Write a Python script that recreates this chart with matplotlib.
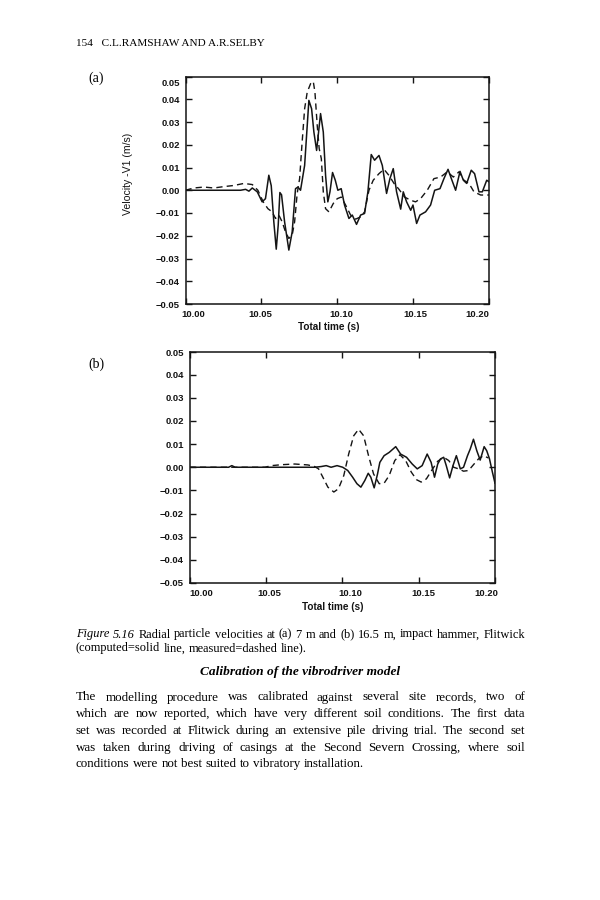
import matplotlib
matplotlib.use("Agg")
import matplotlib.pyplot as plt
from matplotlib.transforms import ScaledTranslation

# ---------------- data ----------------
x_ticks = [10.00, 10.05, 10.10, 10.15, 10.20]
x_tick_labels = ["10.00", "10.05", "10.10", "10.15", "10.20"]
y_ticks = [0.05, 0.04, 0.03, 0.02, 0.01, 0.00, -0.01, -0.02, -0.03, -0.04, -0.05]
y_tick_labels = ["0.05", "0.04", "0.03", "0.02", "0.01", "0.00",
                 "\u22120.01", "\u22120.02", "\u22120.03", "\u22120.04", "\u22120.05"]

# panel (a): 7 m
t_a_comp = [10.000, 10.0363, 10.0396, 10.0418, 10.0440, 10.0473, 10.0505, 10.0527, 10.0549,
            10.0565, 10.0582, 10.0598, 10.0611, 10.0622, 10.0633, 10.0653, 10.0681, 10.0703,
            10.0725, 10.0741, 10.0758, 10.0785, 10.0813, 10.0831, 10.0846, 10.0864, 10.0877,
            10.0890, 10.0908, 10.0923, 10.0938, 10.0952, 10.0969, 10.0987, 10.1004, 10.1026,
            10.1048, 10.1077, 10.1099, 10.1127, 10.1154, 10.1180, 10.1202, 10.1224, 10.1246,
            10.1275, 10.1297, 10.1325, 10.1347, 10.1369, 10.1391, 10.1418, 10.1435, 10.1457,
            10.1484, 10.1499, 10.1523, 10.1545, 10.1582, 10.1615, 10.1642, 10.1677, 10.1703,
            10.1730, 10.1752, 10.1780, 10.1809, 10.1831, 10.1853, 10.1883, 10.1905, 10.1934,
            10.1956, 10.1985, 10.2000]
v_a_comp = [0, 0, 0.0004, -0.0004, 0.0010, -0.0007, -0.0051, -0.0037, 0.0066,
            0.0020, -0.0139, -0.0259, -0.0153, -0.0010, -0.0020, -0.0139, -0.0263, -0.0183,
            0.0007, 0.0014, 0.0000, 0.0109, 0.0395, 0.0358, 0.0256, 0.0175, 0.0256,
            0.0337, 0.0256, 0.0066, -0.0051, -0.0007, 0.0078, 0.0044, 0.0000, 0.0007,
            -0.0065, -0.0124, -0.0109, -0.0150, -0.0109, -0.0102, -0.0007, 0.0157, 0.0132,
            0.0153, 0.0109, -0.0014, 0.0051, 0.0095, -0.0007, -0.0083, -0.0007, -0.0051,
            -0.0088, -0.0065, -0.0146, -0.0109, -0.0095, -0.0065, 0.0000, 0.0007, 0.0051,
            0.0092, 0.0051, 0.0000, 0.0083, 0.0044, 0.0030, 0.0088, 0.0073, -0.0007,
            -0.0007, 0.0044, 0.0037]
t_a_meas = [10.000, 10.0055, 10.0121, 10.0187, 10.0253, 10.0319, 10.0385, 10.0440, 10.0477,
            10.0512, 10.0543, 10.0571, 10.0593, 10.0615, 10.0637, 10.0659, 10.0681, 10.0703,
            10.0719, 10.0736, 10.0752, 10.0767, 10.0785, 10.0802, 10.0824, 10.0842, 10.0853,
            10.0868, 10.0881, 10.0895, 10.0908, 10.0923, 10.0945, 10.0974, 10.1000, 10.1026,
            10.1055, 10.1088, 10.1121, 10.1154, 10.1180, 10.1209, 10.1237, 10.1275, 10.1308,
            10.1341, 10.1374, 10.1407, 10.1444, 10.1484, 10.1516, 10.1549, 10.1593, 10.1637,
            10.1681, 10.1725, 10.1765, 10.1802, 10.1835, 10.1868, 10.1901, 10.1945, 10.2000]
v_a_meas = [0, 0.0010, 0.0014, 0.0010, 0.0016, 0.0021, 0.0030, 0.0025, 0,
            -0.0051, -0.0081, -0.0095, -0.0124, -0.0109, -0.0139, -0.0183, -0.0212, -0.0197,
            -0.0139, -0.0014, 0.0051, 0.0197, 0.0358, 0.0431, 0.0468, 0.0478, 0.0431,
            0.0285, 0.0183, 0.0139, -0.0007, -0.0081, -0.0095, -0.0058, -0.0037, -0.0030,
            -0.0065, -0.0109, -0.0127, -0.0117, -0.0095, 0, 0.0044, 0.0073, 0.0092,
            0.0065, 0.0030, 0.0004, -0.0030, -0.0044, -0.0051, -0.0037, 0, 0.0051,
            0.0058, 0.0081, 0.0058, 0.0081, 0.0044, 0.0030, -0.0007, -0.0021, -0.0021]

# panel (b): 16.5 m
t_b_comp = [10.0000, 10.0256, 10.0277, 10.0299, 10.0819, 10.0862, 10.0895, 10.0927, 10.0966,
            10.1003, 10.1036, 10.1068, 10.1096, 10.1122, 10.1148, 10.1170, 10.1187, 10.1209,
            10.1231, 10.1246, 10.1274, 10.1307, 10.1350, 10.1382, 10.1421, 10.1458, 10.1491,
            10.1523, 10.1556, 10.1582, 10.1604, 10.1625, 10.1643, 10.1664, 10.1681, 10.1703,
            10.1725, 10.1747, 10.1773, 10.1794, 10.1820, 10.1838, 10.1859, 10.1881, 10.1903,
            10.1929, 10.1946, 10.1964, 10.1983, 10.2000]
v_b_comp = [0, 0, 0.0007, 0, 0, 0.0003, 0.0007, 0, 0.0007,
            0, -0.0014, -0.0043, -0.0071, -0.0086, -0.0057, -0.0026, -0.0043, -0.0089,
            -0.0029, 0.0021, 0.0050, 0.0064, 0.0089, 0.0057, 0.0043, 0.0014, -0.0007,
            0.0007, 0.0057, 0.0021, -0.0043, 0.0014, 0.0036, 0.0043, 0.0007, -0.0046,
            0.0007, 0.0050, -0.0007, 0, 0.0050, 0.0079, 0.0121, 0.0071, 0.0031,
            0.0089, 0.0071, 0.0036, -0.0021, -0.0069]
t_b_meas = [10.0000, 10.0494, 10.0537, 10.0602, 10.0689, 10.0775, 10.0819, 10.0845, 10.0873,
            10.0906, 10.0945, 10.0975, 10.1010, 10.1042, 10.1075, 10.1107, 10.1140, 10.1172,
            10.1205, 10.1242, 10.1274, 10.1307, 10.1344, 10.1378, 10.1415, 10.1452, 10.1487,
            10.1517, 10.1551, 10.1588, 10.1625, 10.1664, 10.1697, 10.1729, 10.1762, 10.1794,
            10.1827, 10.1859, 10.1892, 10.1924, 10.1957]
v_b_meas = [0, 0, 0.0007, 0.0011, 0.0014, 0.0010, 0.0003, -0.0007, -0.0043,
            -0.0086, -0.0107, -0.0093, -0.0036, 0.0057, 0.0136, 0.0164, 0.0136, 0.0050,
            -0.0029, -0.0071, -0.0069, -0.0036, 0.0029, 0.0054, 0.0029, -0.0021, -0.0054,
            -0.0064, -0.0050, -0.0011, 0.0026, 0.0043, 0.0029, 0, -0.0007, -0.0017,
            -0.0014, 0.0011, 0.0036, 0.0050, 0.0040]

header_text = "154   C.L.RAMSHAW AND A.R.SELBY"
panel_labels = ["(a)", "(b)"]
y_label = "Velocity -V1 (m/s)"
x_label = "Total time (s)"
caption_line1 = [("Figure", "italic"), ("5.16", "italic"), ("Radial", "normal"),
                 ("particle", "normal"), ("velocities", "normal"), ("at", "normal"),
                 ("(a)", "normal"), ("7", "normal"), ("m", "normal"), ("and", "normal"),
                 ("(b)", "normal"), ("16.5", "normal"), ("m,", "normal"), ("impact", "normal"),
                 ("hammer,", "normal"), ("Flitwick", "normal")]
caption_line2 = "(computed=solid line, measured=dashed line)."
heading = "Calibration of the vibrodriver model"
paragraph_lines = [
    "The modelling procedure was calibrated against several site records, two of",
    "which are now reported, which have very different soil conditions. The first data",
    "set was recorded at Flitwick during an extensive pile driving trial. The second set",
    "was taken during driving of casings at the Second Severn Crossing, where soil",
    "conditions were not best suited to vibratory installation.",
]

# ---------------- figure ----------------
W, H = 600, 900
fig = plt.figure(figsize=(W / 100, H / 100), dpi=100)
fig.patch.set_facecolor("white")

SANS = ["Liberation Sans", "DejaVu Sans"]
SERIF = ["Liberation Serif", "DejaVu Serif"]
INK = "#141414"


def px_box(l, t, r, b):
    return [l / W, 1 - b / H, (r - l) / W, (b - t) / H]


def shift(dx, dy):
    return ScaledTranslation(dx / 100, -dy / 100, fig.dpi_scale_trans)


def style_axes(ax, label_dx, first_y_dy):
    ax.set_xlim(10.0, 10.2)
    ax.set_ylim(-0.05, 0.05)
    ax.set_xticks(x_ticks)
    ax.set_xticklabels(x_tick_labels)
    ax.set_yticks(y_ticks)
    ax.set_yticklabels(y_tick_labels)
    ax.tick_params(direction="in", top=True, right=True, length=4.5, width=1.0,
                   labelsize=6.8, pad=4, colors=INK)
    for lab in ax.get_xticklabels() + ax.get_yticklabels():
        lab.set_fontfamily(SANS)
        lab.set_fontweight("bold")
    for lab, dx in zip(ax.get_xticklabels(), label_dx):
        lab.set_transform(lab.get_transform() + shift(dx, 0))
    ylabs = ax.get_yticklabels()
    ylabs[0].set_transform(ylabs[0].get_transform() + shift(0, first_y_dy))
    for s in ax.spines.values():
        s.set_linewidth(1.1)
        s.set_color(INK)


line_kw = dict(color=INK, lw=1.1)
dash_kw = dict(color=INK, lw=1.0, linestyle=(0, (4.5, 3.0)))

# panel (a)
ax_a = fig.add_axes(px_box(185.5, 76.5, 489, 304))
ax_a.plot(t_a_comp, v_a_comp, **line_kw)
ax_a.plot(t_a_meas, v_a_meas, **dash_kw)
style_axes(ax_a, [8, -1, 4, 2, -12], 6)

# panel (b)
ax_b = fig.add_axes(px_box(189.5, 351.5, 495, 583))
ax_b.plot(t_b_comp, v_b_comp, **line_kw)
ax_b.plot(t_b_meas, v_b_meas, **dash_kw)
style_axes(ax_b, [12, 3, 8, 5, -9], 1)


def ftext(x, y, s, **kw):
    return fig.text(x / W, 1 - y / H, s, **kw)


# axis titles
ftext(128, 174, y_label, rotation=90, ha="center", va="center", fontsize=7.6,
      family=SANS, color=INK)
ftext(329, 326.5, x_label, ha="center", va="center", fontsize=7.2, family=SANS,
      weight="bold", color=INK)
ftext(333, 607, x_label, ha="center", va="center", fontsize=7.2, family=SANS,
      weight="bold", color=INK)

# panel letters
ftext(96.5, 78.5, panel_labels[0], ha="center", va="center", fontsize=10, family=SERIF)
ftext(96.5, 364, panel_labels[1], ha="center", va="center", fontsize=10, family=SERIF)

# header
ftext(76, 46.5, header_text, ha="left", va="baseline", fontsize=8.1, family=SERIF)

# ---------------- justified text ----------------
fig.canvas.draw()
renderer = fig.canvas.get_renderer()
X0, X1 = 76, 525


def draw_words(words, y, size, justify=True):
    texts = []
    for w, st in words:
        texts.append(ftext(0, y, w, ha="left", va="baseline", fontsize=size,
                           family=SERIF, style=st))
    widths = [t.get_window_extent(renderer).width for t in texts]
    if justify and len(texts) > 1:
        gap = ((X1 - X0) - sum(widths)) / (len(texts) - 1)
    else:
        sp = ftext(0, y, "a a", fontsize=size, family=SERIF)
        sp2 = ftext(0, y, "aa", fontsize=size, family=SERIF)
        gap = sp.get_window_extent(renderer).width - sp2.get_window_extent(renderer).width
        sp.remove()
        sp2.remove()
    x = X0
    for t, w in zip(texts, widths):
        t.set_x(x / W)
        x += w + gap


draw_words(caption_line1, 637.5, 8.9, justify=True)
draw_words([(w, "normal") for w in caption_line2.split()], 651.5, 8.9, justify=False)
ftext(300, 675.5, heading, ha="center", va="baseline", fontsize=9.6, family=SERIF,
      style="italic", weight="bold")

ys = [700.5, 717.2, 733.9, 750.6, 767.3]
for i, (line, y) in enumerate(zip(paragraph_lines, ys)):
    words = [(w, "normal") for w in line.split()]
    draw_words(words, y, 9.4, justify=(i < len(paragraph_lines) - 1))

fig.savefig("out.png", dpi=100, facecolor="white")
